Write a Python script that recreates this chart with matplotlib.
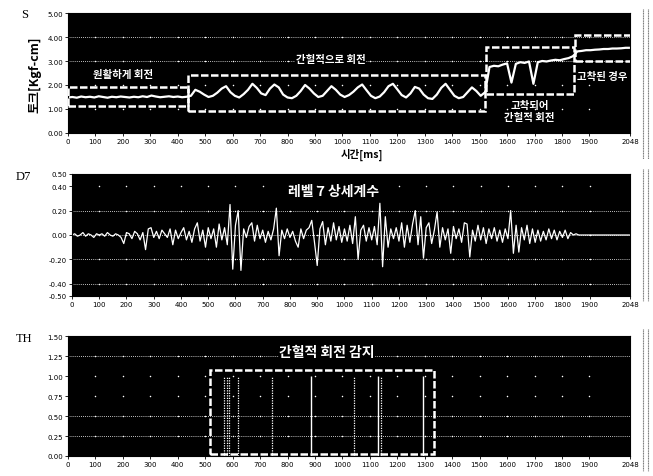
import numpy as np
import matplotlib.pyplot as plt
from matplotlib.patches import Rectangle
from matplotlib.lines import Line2D

plt.rcParams['font.family'] = ['Noto Sans CJK KR', 'DejaVu Sans']

# torque S [Kgf-cm], one value every 16 ms (0 .. 2048)
s_torque = [
    1.48, 1.50, 1.47, 1.52, 1.49, 1.51, 1.48, 1.53, 1.50, 1.47,
    1.51, 1.49, 1.52, 1.50, 1.48, 1.51, 1.49, 1.53, 1.50, 1.56,
    1.52, 1.49, 1.51, 1.53, 1.50, 1.52, 1.49, 1.51,
    1.55, 1.80, 1.72, 1.60, 1.50, 1.55, 1.68, 1.85, 1.95, 1.70,
    1.55, 1.48, 1.62, 1.80, 2.05, 1.88, 1.65, 1.58, 1.85, 2.02,
    1.90, 1.60, 1.48, 1.45, 1.55, 1.75, 2.00, 1.85, 1.65, 1.50,
    1.55, 1.75, 1.95, 1.80, 1.60, 1.50, 1.58, 1.72, 1.90, 2.02,
    1.78, 1.55, 1.45, 1.52, 1.70, 1.95, 2.05, 1.82, 1.58, 1.48,
    1.65, 1.92, 1.85, 1.60, 1.45, 1.42, 1.60, 1.88, 2.05, 1.80,
    1.55, 1.45, 1.50, 1.70, 1.90, 1.75, 1.55, 1.70,
    2.75, 2.80, 2.78, 2.85, 2.90, 2.10, 2.88, 2.95, 2.92, 2.98,
    2.05, 2.95, 3.00, 2.98, 3.02, 3.05, 3.03, 3.08, 3.12, 3.20,
    3.40, 3.42, 3.45, 3.45, 3.47, 3.48, 3.50, 3.50, 3.52, 3.52,
    3.53, 3.55, 3.55,
]

# level 7 detail coefficients D7, one value every 10 ms
d7_coef = [
    0.00, 0.01, -0.01, 0.00, 0.02, -0.01, 0.01, 0.00, -0.02, 0.01,
    0.00, 0.01, -0.01, 0.02, 0.00, -0.01, 0.01, 0.00, -0.02,
    -0.07, 0.02, 0.01, -0.03, 0.03, 0.01, -0.04, 0.02, -0.12, 0.05, 0.06,
    -0.02, 0.03, -0.03, 0.04, 0.01, -0.02, 0.05, -0.08, 0.04, -0.03, 0.02,
    0.06, -0.04, 0.03, -0.06, 0.05, 0.10, -0.05, 0.04, -0.10, 0.06,
    -0.03, 0.05, -0.10, 0.09, -0.04, 0.06, -0.08, 0.25, -0.28, 0.08,
    0.20, -0.29, 0.05, -0.02, 0.07, 0.10, -0.05, 0.08, -0.03, 0.04,
    -0.06, 0.03, -0.04, 0.05, 0.22, -0.17, 0.04, -0.03, 0.05, -0.02,
    0.03, -0.05, -0.10, 0.05, -0.03, 0.04, 0.06, 0.12, -0.06, -0.25,
    0.05, 0.11, -0.08, 0.06, -0.05, 0.10, -0.04, 0.07, -0.06, 0.05,
    -0.05, 0.08, -0.07, 0.15, -0.20, 0.04, 0.08, -0.05, 0.06, -0.04,
    0.07, -0.08, 0.26, -0.26, 0.15, -0.10, 0.05, -0.03, 0.06, -0.05,
    0.10, -0.10, 0.08, -0.06, 0.09, 0.20, -0.08, 0.15, -0.19, 0.06,
    0.10, -0.07, 0.04, 0.19, -0.10, 0.06, -0.04, 0.05, -0.15, 0.07,
    -0.03, 0.05, -0.06, 0.10, 0.09, -0.18, 0.04, -0.05, 0.08, -0.04,
    0.06, -0.07, 0.05, -0.03, 0.06, -0.05, 0.04, -0.06, 0.05, -0.03,
    0.20, -0.15, 0.08, -0.14, 0.06, -0.04, 0.08, -0.07, 0.05, -0.06,
    0.04, -0.05, 0.03, -0.04, 0.05, -0.03, 0.04, -0.04, 0.03, -0.02,
    0.04, -0.03, 0.02, 0.00, 0.01, 0.00, 0.00, 0.00, 0.00, 0.00,
    0.00, 0.00, 0.00, 0.00, 0.00, 0.00, 0.00, 0.00, 0.00, 0.00,
    0.00, 0.00, 0.00, 0.00, 0.00,
]

# TH: times [ms] where intermittent rotation was flagged
th_solid = [885, 1130, 1295]
th_dotted = [570, 578, 585, 618, 742, 1042, 1141]

x_ticks = list(range(0, 2000, 100)) + [2048]
s_yticks = [0, 1, 2, 3, 4, 5]
d7_yticks = [-0.5, -0.4, -0.2, 0.0, 0.2, 0.4, 0.5]
th_yticks = [0, 0.25, 0.5, 0.75, 1.0, 1.25, 1.5]

# marked regions: (t start, t end, y low, y high)
s_boxes = [(0, 439, 1.12, 1.90), (439, 1520, 0.92, 2.42),
           (1525, 1843, 1.62, 3.58), (1847, 2120, 2.98, 4.10)]
th_box = (519, 1335, 0.02, 1.07)

W, H = 653, 477
fig = plt.figure(figsize=(W / 100, H / 100), dpi=100)


def add_axes(left, right, top, bottom):
    return fig.add_axes([left / W, 1 - bottom / H, (right - left) / W, (bottom - top) / H])


def style_axes(ax, ylim, yticks, dense):
    ax.set_facecolor('black')
    ax.set_xlim(0, 2048)
    ax.set_ylim(*ylim)
    ax.set_xticks(x_ticks)
    ax.set_xticklabels([str(v) for v in x_ticks], fontsize=5, family='DejaVu Sans')
    ax.set_yticks(yticks)
    ax.set_yticklabels(['%.2f' % v for v in yticks], fontsize=5, family='DejaVu Sans')
    ax.tick_params(length=2, width=0.6, pad=1.5)
    for sp in ax.spines.values():
        sp.set_linewidth(0.8)
    for y in dense:
        ax.axhline(y, color='white', lw=0.6, ls=(0, (1, 1.5)), zorder=1)
    xx, yy = np.meshgrid(x_ticks[1:-1], yticks[1:-1])
    ax.scatter(xx.ravel(), yy.ravel(), s=1.2, color='white', linewidths=0, zorder=1)


def dashed_box(ax, box):
    t0, t1, y0, y1 = box
    ax.add_patch(Rectangle((t0, y0), t1 - t0, y1 - y0, fill=False, ec='white',
                           lw=1.8, ls=(0, (3, 1)), zorder=3))


txt = dict(color='white', fontweight='bold', zorder=4)

# S panel
ax1 = add_axes(68, 630, 14, 134)
style_axes(ax1, (0, 5), s_yticks, [3, 4])
t_s = np.arange(len(s_torque)) * 16
ax1.plot(t_s, s_torque, color='white', lw=1.6, zorder=2)
for b in s_boxes:
    dashed_box(ax1, b)
ax1.text(201, 2.45, '원활하게 회전', ha='center', va='center', fontsize=7.5, **txt)
ax1.text(958, 3.08, '간헐적으로 회전', ha='center', va='center', fontsize=7.5,
         bbox=dict(fc='black', ec='none', pad=0.5), **txt)
ax1.text(1682, 0.92, '고착되어\n간헐적 회전', ha='center', va='center', fontsize=7.5,
         linespacing=1.2, **txt)
ax1.text(1856, 2.37, '고착된 경우', ha='left', va='center', fontsize=7.5,
         clip_on=True, **txt)

# D7 panel
ax2 = add_axes(72, 630, 175, 297)
style_axes(ax2, (-0.5, 0.5), d7_yticks, [0.2, 0.0, -0.2, -0.4])
t_d = np.arange(len(d7_coef)) * 10
ax2.plot(t_d, d7_coef, color='white', lw=0.9, zorder=2)
ax2.text(958, 0.36, '레벨 7 상세계수', ha='center', va='center', fontsize=10, **txt)

# TH panel
ax3 = add_axes(68, 630, 337, 457)
style_axes(ax3, (0, 1.5), th_yticks, [1.25, 0.5, 0.25])
ax3.vlines(th_solid, 0, 1.0, color='white', lw=1.0, zorder=2)
ax3.vlines(th_dotted, 0, 1.0, color='white', lw=0.9, ls=(0, (1, 1)), zorder=2)
dashed_box(ax3, th_box)
ax3.text(944, 1.3, '간헐적 회전 감지', ha='center', va='center', fontsize=10,
         bbox=dict(fc='black', ec='none', pad=0.5), **txt)

# panel names and axis titles
fig.text(25 / W, 1 - 15 / H, 'S', fontsize=9, family='Liberation Serif', ha='center', va='center')
fig.text(23 / W, 1 - 177 / H, 'D7', fontsize=9, family='Liberation Serif', ha='center', va='center')
fig.text(24 / W, 1 - 339 / H, 'TH', fontsize=9, family='Liberation Serif', ha='center', va='center')
fig.text(35 / W, 1 - 75 / H, '토크[Kgf-cm]', rotation=90, fontsize=9, fontweight='bold',
         ha='center', va='center')
fig.text(362 / W, 1 - 155 / H, '시간[ms]', fontsize=7.5, fontweight='bold',
         ha='center', va='center')

# scroll-bar like double rules at the right edge
for y0, y1 in [(10, 160), (170, 302), (330, 472)]:
    for x in (643, 648):
        fig.add_artist(Line2D([x / W, x / W], [1 - y0 / H, 1 - y1 / H],
                              color='#777777', lw=0.8, ls=(0, (1, 0.5))))

fig.savefig('out.png', dpi=100)
